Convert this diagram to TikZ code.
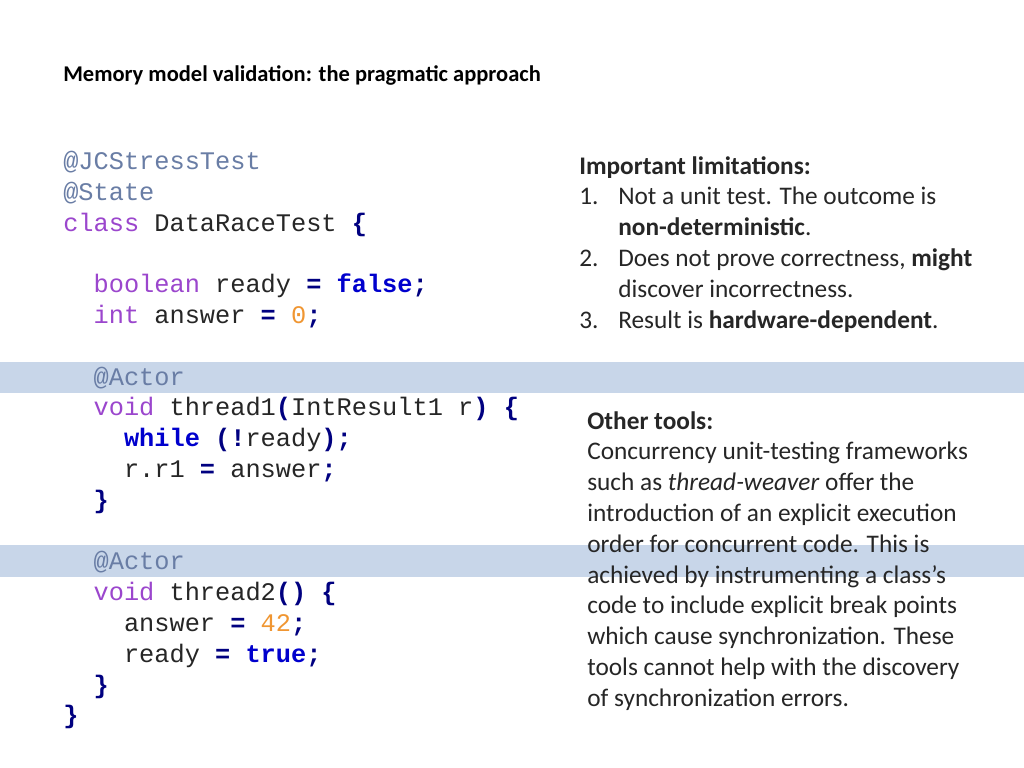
\documentclass[tikz,border=0pt]{standalone}
\usepackage{fontspec}
\setmainfont{Carlito}
\setmonofont{Liberation Mono}
\usetikzlibrary{positioning}
\definecolor{bandblue}{RGB}{200,214,233}
\definecolor{annot}{RGB}{105,125,165}
\definecolor{kwpurple}{RGB}{155,70,205}
\definecolor{litblue}{RGB}{0,0,205}
\definecolor{opnavy}{RGB}{0,0,128}
\definecolor{numorange}{RGB}{240,150,50}
\newcommand{\an}[1]{\textcolor{annot}{#1}}
\newcommand{\kw}[1]{\textcolor{kwpurple}{#1}}
\newcommand{\lit}[1]{\textcolor{litblue}{\bfseries #1}}
\newcommand{\op}[1]{\textcolor{opnavy}{\bfseries #1}}
\newcommand{\num}[1]{\textcolor{numorange}{#1}}
\newcommand{\ind}{\hspace*{1.2em}}
\newcommand{\li}[1]{\makebox[0.975cm][l]{#1}}
\begin{document}
\begin{tikzpicture}[x=0.025cm, y=-0.025cm,
    codetext/.style={anchor=north west, align=left, inner sep=0pt,
      font=\ttfamily\fontsize{18}{21.9}\selectfont, text=black!85},
    bodytext/.style={anchor=north west, align=left, inner sep=0pt,
      font=\fontsize{18}{21.9}\selectfont, text=black!85}]
  \useasboundingbox (0,0) rectangle (1024,768);
  \fill[white] (0,0) rectangle (1024,768);

  % highlight bands
  \fill[bandblue] (0,362) rectangle (1024,393);
  \fill[bandblue] (0,545) rectangle (1024,577);

  % title
  \node[anchor=base west, inner sep=0pt, font=\bfseries\fontsize{16}{19}\selectfont]
    (title) at (63,82) {Memory model validation: the pragmatic approach};

  % code listing
  \node[codetext] (code) at (63,151) {%
    \an{@JCStressTest}\\
    \an{@State}\\
    \kw{class} DataRaceTest \op{\{}\\
    \mbox{}\\
    \ind\kw{boolean} ready \op{=} \lit{false}\op{;}\\
    \ind\kw{int} answer \op{=} \num{0}\op{;}\\
    \mbox{}\\
    \ind\an{@Actor}\\
    \ind\kw{void} thread1\op{(}IntResult1 r\op{)} \op{\{}\\
    \ind\ind\lit{while} \op{(!}ready\op{);}\\
    \ind\ind r.r1 \op{=} answer\op{;}\\
    \ind\op{\}}\\
    \mbox{}\\
    \ind\an{@Actor}\\
    \ind\kw{void} thread2\op{()} \op{\{}\\
    \ind\ind answer \op{=} \num{42}\op{;}\\
    \ind\ind ready \op{=} \lit{true}\op{;}\\
    \ind\op{\}}\\
    \op{\}}};

  % limitations
  \node[bodytext] (limits) at (579,156) {%
    \textbf{Important limitations:}\\
    \li{1.}Not a unit test. The outcome is\\
    \li{}\textbf{non-deterministic}.\\
    \li{2.}Does not prove correctness, \textbf{might}\\
    \li{}discover incorrectness.\\
    \li{3.}Result is \textbf{hardware-dependent}.};

  % other tools
  \node[bodytext] (tools) at (587,411) {%
    \textbf{Other tools:}\\
    Concurrency unit-testing frameworks\\
    such as \textit{thread-weaver} offer the\\
    introduction of an explicit execution\\
    order for concurrent code. This is\\
    achieved by instrumenting a class’s\\
    code to include explicit break points\\
    which cause synchronization. These\\
    tools cannot help with the discovery\\
    of synchronization errors.};
\end{tikzpicture}
\end{document}
